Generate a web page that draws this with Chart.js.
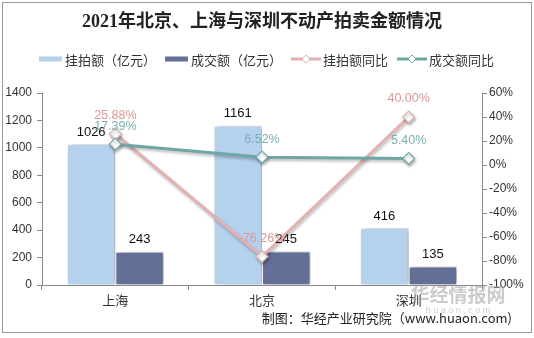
<!DOCTYPE html>
<html>
<head>
<meta charset="utf-8">
<script src="https://cdn.jsdelivr.net/npm/chart.js@4.4.1/dist/chart.umd.min.js"></script>
<style>
body { margin: 0; background: #fff; }
#wrap { width: 534px; height: 338px; }
</style>
</head>
<body>
<div id="wrap"><canvas id="chart" width="534" height="338"></canvas></div>
<script>
// 城市与各项数据
const cities = ['上海', '北京', '深圳'];
const listedAmount = [1026, 1161, 416];      // 挂拍额（亿元）
const dealAmount = [243, 245, 135];          // 成交额（亿元）
const listedYoY = [25.88, -76.26, 40.00];    // 挂拍额同比 %
const dealYoY = [17.39, 6.52, 5.40];         // 成交额同比 %

const titleText = '2021年北京、上海与深圳不动产拍卖金额情况';
const sourceText = '制图：华经产业研究院（www.huaon.com)';

const CJK = '"Noto Sans CJK SC", "Liberation Sans", sans-serif';
const NUM = '"Liberation Sans", Arial, "Noto Sans CJK SC", sans-serif';
const axisColor = '#8a8a8a';
const tickColor = '#333';

const colors = {
    listed: '#b6d1ee',
    deal: '#646f98',
    listedLine: '#e3b1b0',
    dealLine: '#6fa7a5',
    listedText: '#d99896',
    dealText: '#7ab0b0'
};

// 柱子和折线的阴影
const shadowPlugin = {
    id: 'shadows',
    beforeDatasetDraw(chart, args) {
        const ctx = chart.ctx;
        ctx.save();
        if (args.meta.type === 'bar') {
            ctx.shadowColor = 'rgba(0,0,0,0.38)';
            ctx.shadowOffsetX = 3;
            ctx.shadowOffsetY = 0;
            ctx.shadowBlur = 6;
        } else {
            ctx.shadowColor = 'rgba(0,0,0,0.28)';
            ctx.shadowOffsetX = 1;
            ctx.shadowOffsetY = 2;
            ctx.shadowBlur = 3;
        }
    },
    afterDatasetDraw(chart) {
        chart.ctx.restore();
    }
};

// 数值标签
const valueLabels = {
    id: 'valueLabels',
    afterDatasetsDraw(chart) {
        const { ctx, data } = chart;
        ctx.save();
        ctx.textAlign = 'center';
        ctx.textBaseline = 'middle';
        data.datasets.forEach((ds, i) => {
            const meta = chart.getDatasetMeta(i);
            meta.data.forEach((el, j) => {
                const v = ds.data[j];
                if (meta.type === 'bar') {
                    ctx.font = `13px ${NUM}`;
                    ctx.fillStyle = '#111';
                    ctx.fillText(String(v), el.x, el.y - 12);
                } else {
                    ctx.font = `12.5px ${NUM}`;
                    ctx.fillStyle = ds.labelColor;
                    ctx.fillText(v.toFixed(2) + '%', el.x, el.y - 18);
                }
            });
        });
        ctx.restore();
    }
};

// 标题、图例、来源、边框
const frameText = {
    id: 'frameText',
    afterDraw(chart) {
        const { ctx, data } = chart;
        ctx.save();
        ctx.strokeStyle = '#9a9a9a';
        ctx.lineWidth = 1;
        ctx.strokeRect(2.5, 2.5, 529, 330);

        ctx.fillStyle = '#222';
        ctx.textAlign = 'center';
        ctx.textBaseline = 'middle';
        ctx.font = `bold 18px "Liberation Serif", ${CJK}`;
        ctx.fillText(titleText, 262, 22);

        // 图例
        ctx.font = `13px ${CJK}`;
        ctx.textAlign = 'left';
        const ly = 59;
        let x = 39;
        [0, 1, 2, 3].forEach(i => {
            const ds = data.datasets[i];
            const isBar = chart.getDatasetMeta(i).type === 'bar';
            if (isBar) {
                ctx.fillStyle = ds.backgroundColor;
                ctx.fillRect(x, ly - 2.5, 23, 5);
                x += 26;
            } else {
                ctx.strokeStyle = ds.borderColor;
                ctx.lineWidth = 3;
                ctx.beginPath();
                ctx.moveTo(x, ly);
                ctx.lineTo(x + 30, ly);
                ctx.stroke();
                const cx = x + 15;
                ctx.beginPath();
                ctx.moveTo(cx, ly - 4);
                ctx.lineTo(cx + 4, ly);
                ctx.lineTo(cx, ly + 4);
                ctx.lineTo(cx - 4, ly);
                ctx.closePath();
                ctx.fillStyle = '#fff';
                ctx.fill();
                ctx.lineWidth = 1;
                ctx.stroke();
                x += 32;
            }
            ctx.fillStyle = '#333';
            ctx.fillText(ds.label, x, ly + 1);
            x += ctx.measureText(ds.label).width + 9;
        });

        // 水印
        ctx.textAlign = 'center';
        ctx.fillStyle = 'rgba(160,160,160,0.55)';
        ctx.font = `bold 19px ${CJK}`;
        ctx.fillText('华经情报网', 458, 295);
        ctx.font = `9px ${NUM}`;
        ctx.fillStyle = 'rgba(170,170,170,0.6)';
        ctx.fillText('h u a o n . c o m', 458, 311);

        ctx.textAlign = 'right';
        ctx.fillStyle = '#222';
        ctx.font = `13px ${CJK}`;
        ctx.fillText(sourceText, 512, 318);
        ctx.restore();
    }
};

const tickFont = { family: NUM, size: 12 };

const config = {
    type: 'bar',
    data: {
        labels: cities,
        datasets: [
            {
                label: '挂拍额（亿元）', data: listedAmount, yAxisID: 'y',
                backgroundColor: colors.listed, borderColor: '#fff', borderWidth: 1,
                order: 2
            },
            {
                label: '成交额（亿元）', data: dealAmount, yAxisID: 'y',
                backgroundColor: colors.deal, borderColor: '#fff', borderWidth: 1,
                order: 2
            },
            {
                type: 'line', label: '挂拍额同比', data: listedYoY, yAxisID: 'y1',
                borderColor: colors.listedLine, borderWidth: 3, labelColor: colors.listedText,
                pointStyle: 'rectRot', pointRadius: 6, pointBackgroundColor: '#fff',
                pointBorderColor: colors.listedLine, pointBorderWidth: 1.2,
                order: 1
            },
            {
                type: 'line', label: '成交额同比', data: dealYoY, yAxisID: 'y1',
                borderColor: colors.dealLine, borderWidth: 3, labelColor: colors.dealText,
                pointStyle: 'rectRot', pointRadius: 6, pointBackgroundColor: '#fff',
                pointBorderColor: colors.dealLine, pointBorderWidth: 1.2,
                order: 0
            }
        ]
    },
    options: {
        responsive: false,
        animation: false,
        layout: { padding: { top: 93, left: 0, right: 0, bottom: 0 } },
        categoryPercentage: 0.66,
        barPercentage: 1,
        scales: {
            x: {
                grid: { display: true, drawOnChartArea: false, tickLength: 5, color: axisColor, offset: true },
                border: { color: axisColor },
                ticks: { font: { family: CJK, size: 13 }, color: tickColor, padding: 2 },
                afterFit(s) { s.height = 53; }
            },
            y: {
                position: 'left', min: 0, max: 1400,
                grid: { drawOnChartArea: false, tickLength: 5, color: axisColor },
                border: { color: axisColor },
                ticks: { stepSize: 200, font: tickFont, color: tickColor, padding: 5, callback: v => String(v) },
                afterFit(s) { s.width = 42; }
            },
            y1: {
                position: 'right', min: -100, max: 60,
                grid: { drawOnChartArea: false, tickLength: 5, color: axisColor },
                border: { color: axisColor },
                ticks: { stepSize: 20, font: tickFont, color: tickColor, padding: 2, callback: v => v + '%' },
                afterFit(s) { s.width = 52; }
            }
        },
        plugins: {
            legend: { display: false },
            title: { display: false },
            tooltip: { enabled: false }
        }
    },
    plugins: [shadowPlugin, valueLabels, frameText]
};

new Chart(document.getElementById('chart').getContext('2d'), config);
</script>
</body>
</html>
